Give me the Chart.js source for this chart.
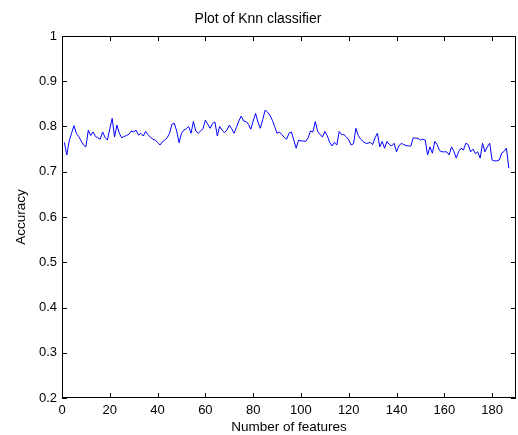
<!DOCTYPE html>
<html>
<head>
<meta charset="utf-8">
<script src="https://cdn.jsdelivr.net/npm/chart.js@4/dist/chart.umd.min.js"></script>
<style>
  html, body { margin: 0; padding: 0; background: #fff; }
  #wrap { width: 518px; height: 435px; }
</style>
</head>
<body>
<div id="wrap"><canvas id="knnChart"></canvas></div>
<script>
// data: accuracy for 1..187 features
const accuracy = [
  0.765, 0.737, 0.768, 0.785, 0.802, 0.785, 0.778, 0.768, 0.759, 0.755,
  0.792, 0.780, 0.788, 0.778, 0.775, 0.772, 0.788, 0.776, 0.770, 0.795,
  0.818, 0.777, 0.803, 0.785, 0.775, 0.778, 0.780, 0.783, 0.790, 0.788,
  0.792, 0.781, 0.785, 0.779, 0.789, 0.782, 0.776, 0.772, 0.770, 0.765,
  0.759, 0.766, 0.770, 0.775, 0.785, 0.805, 0.807, 0.790, 0.764, 0.785,
  0.792, 0.795, 0.800, 0.785, 0.811, 0.790, 0.785, 0.790, 0.795, 0.814,
  0.805, 0.796, 0.807, 0.810, 0.779, 0.800, 0.792, 0.786, 0.792, 0.803,
  0.795, 0.785, 0.798, 0.812, 0.823, 0.812, 0.811, 0.805, 0.794, 0.812,
  0.829, 0.810, 0.796, 0.815, 0.836, 0.832, 0.825, 0.814, 0.800, 0.785,
  0.788, 0.782, 0.776, 0.772, 0.785, 0.788, 0.770, 0.752, 0.770, 0.768,
  0.768, 0.767, 0.775, 0.790, 0.788, 0.811, 0.789, 0.782, 0.777, 0.789,
  0.780, 0.765, 0.757, 0.765, 0.759, 0.789, 0.782, 0.782, 0.777, 0.770,
  0.759, 0.762, 0.796, 0.780, 0.772, 0.767, 0.763, 0.763, 0.765, 0.760,
  0.775, 0.785, 0.755, 0.767, 0.752, 0.767, 0.760, 0.757, 0.763, 0.744,
  0.757, 0.763, 0.760, 0.758, 0.757, 0.757, 0.775, 0.774, 0.774, 0.770,
  0.772, 0.770, 0.737, 0.755, 0.741, 0.767, 0.760, 0.747, 0.744, 0.744,
  0.744, 0.737, 0.755, 0.745, 0.730, 0.745, 0.752, 0.748, 0.763, 0.760,
  0.744, 0.750, 0.740, 0.744, 0.730, 0.763, 0.744, 0.755, 0.763, 0.726,
  0.724, 0.724, 0.726, 0.741, 0.745, 0.752, 0.708
];
const features = accuracy.map((_, i) => i + 1);

const xTicks = [0, 20, 40, 60, 80, 100, 120, 140, 160, 180];
const yTicks = [0.2, 0.3, 0.4, 0.5, 0.6, 0.7, 0.8, 0.9, 1];

const FONT = "'Liberation Sans', Arial, sans-serif";

// MATLAB style box with inward ticks
const boxTicks = {
  id: 'boxTicks',
  afterDraw(chart) {
    const { ctx, chartArea: a, scales: { x, y } } = chart;
    const len = 5;
    ctx.save();
    ctx.strokeStyle = '#000';
    ctx.lineWidth = 1;
    ctx.strokeRect(Math.round(a.left) + 0.5, Math.round(a.top) + 0.5,
      Math.round(a.right - a.left) - 1, Math.round(a.bottom - a.top) - 1);
    ctx.beginPath();
    xTicks.forEach(v => {
      const px = Math.round(x.getPixelForValue(v)) + 0.5;
      ctx.moveTo(px, a.bottom); ctx.lineTo(px, a.bottom - len);
      ctx.moveTo(px, a.top); ctx.lineTo(px, a.top + len);
    });
    yTicks.forEach(v => {
      const py = Math.round(y.getPixelForValue(v)) + 0.5;
      ctx.moveTo(a.left, py); ctx.lineTo(a.left + len, py);
      ctx.moveTo(a.right, py); ctx.lineTo(a.right - len, py);
    });
    ctx.stroke();
    ctx.restore();
  }
};

new Chart(document.getElementById('knnChart'), {
  type: 'line',
  data: {
    datasets: [{
      data: features.map((f, i) => ({ x: f, y: accuracy[i] })),
      borderColor: '#0000ff',
      borderWidth: 1,
      pointRadius: 0,
      tension: 0,
      fill: false
    }]
  },
  options: {
    responsive: true,
    maintainAspectRatio: false,
    animation: false,
    layout: { padding: { top: 0, right: 2, bottom: 0, left: 0 } },
    plugins: {
      legend: { display: false },
      tooltip: { enabled: false },
      title: {
        display: true,
        text: 'Plot of Knn classifier',
        color: '#000',
        font: { family: FONT, size: 14, weight: 'normal' },
        padding: { top: 10.6, bottom: 8.6 }
      }
    },
    scales: {
      x: {
        type: 'linear',
        min: 0,
        max: 190,
        afterFit: s => { s.height = 37; },
        grid: { display: false, drawTicks: false },
        border: { display: false },
        ticks: {
          stepSize: 20,
          includeBounds: false,
          padding: 5,
          maxRotation: 0,
          color: '#000',
          font: { family: FONT, size: 13 }
        },
        title: {
          display: true,
          text: 'Number of features',
          color: '#000',
          font: { family: FONT, size: 13.5 },
          padding: { top: 0, bottom: 0 }
        }
      },
      y: {
        min: 0.2,
        max: 1,
        afterFit: s => { s.width = 62; },
        grid: { display: false, drawTicks: false },
        border: { display: false },
        ticks: {
          stepSize: 0.1,
          padding: 5,
          color: '#000',
          font: { family: FONT, size: 13 },
          callback: v => String(Number(v.toFixed(1)))
        },
        title: {
          display: true,
          text: 'Accuracy',
          color: '#000',
          font: { family: FONT, size: 13.5 },
          padding: { top: 13, bottom: 0 }
        }
      }
    }
  },
  plugins: [boxTicks]
});
</script>
</body>
</html>
